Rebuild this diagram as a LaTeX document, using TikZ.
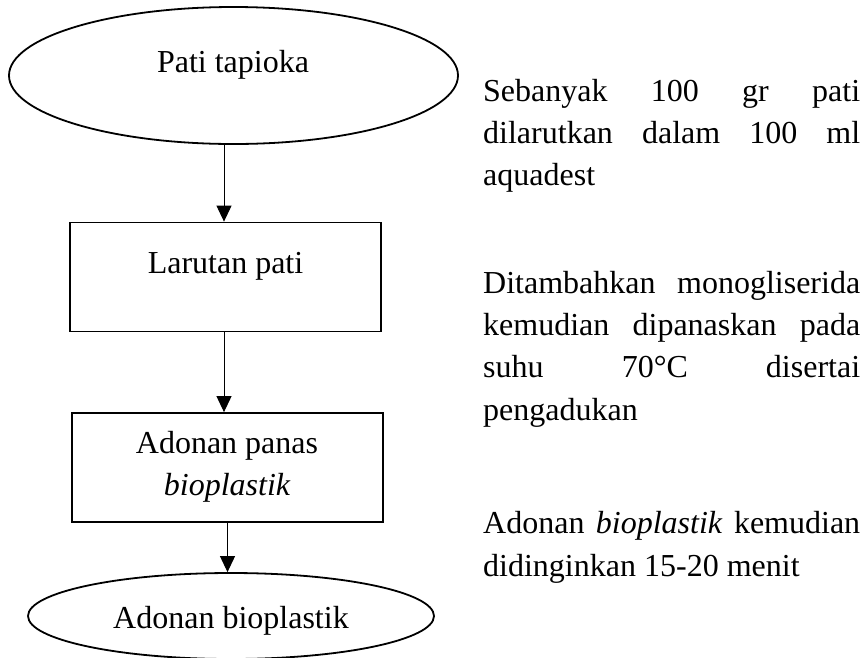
\documentclass[tikz,border=0pt]{standalone}
\usepackage{fontspec}
\setmainfont{Liberation Serif}
\usetikzlibrary{arrows.meta,shapes.geometric}
\tikzset{
  shapeline/.style={draw=black, line width=1.8pt, inner sep=0pt},
  oval/.style={shapeline, ellipse},
  procbox/.style={shapeline, rectangle},
  lbl/.style={anchor=base, inner sep=0pt, font=\fontsize{32}{42}\selectfont},
  rtxt/.style={anchor=base west, inner sep=0pt, font=\fontsize{32}{42}\selectfont},
  flow/.style={line width=1pt, -{Triangle[length=16pt,width=15pt]}}
}
\newcommand{\jline}[1]{\makebox[377pt][s]{#1}}
\begin{document}
\begin{tikzpicture}[x=1pt,y=-1pt]
\useasboundingbox (0,0) rectangle (865,657);
% shapes
\node[oval, minimum width=449pt, minimum height=137pt] (e1) at (233.5,75.5) {};
\node[procbox, minimum width=311pt, minimum height=109pt] (r1) at (225.5,277) {};
\node[procbox, minimum width=311pt, minimum height=109pt] (r2) at (227.5,467.5) {};
\node[oval, minimum width=406pt, minimum height=86pt] (e2) at (231,616) {};
% texts in shapes
\node[lbl] (e1t) at (233,72) {Pati tapioka};
\node[lbl] (r1t) at (225.5,273) {Larutan pati};
\node[lbl] (r2a) at (227,453) {Adonan panas};
\node[lbl] (r2b) at (227,495) {\itshape bioplastik};
\node[lbl] (e2t) at (231,628) {Adonan bioplastik};
% connectors
\draw[flow] ([xshift=-1.5pt]r1.north |- e1.south) -- ([xshift=-1.5pt]r1.north);
\draw[flow] ([xshift=-1.5pt]r1.south) -- ([xshift=-1.5pt]r1.south |- r2.north);
\draw[flow] (r2.south) -- (r2.south |- e2.north);
% right-hand descriptions
\node[rtxt] (p1a) at (483,101) {\jline{Sebanyak 100 gr pati}};
\node[rtxt] (p1b) at (483,143) {\jline{dilarutkan dalam 100 ml}};
\node[rtxt] (p1c) at (483,185) {aquadest};
\node[rtxt] (p2a) at (483,293) {\jline{Ditambahkan monogliserida}};
\node[rtxt] (p2b) at (483,335) {\jline{kemudian dipanaskan pada}};
\node[rtxt] (p2c) at (483,377) {\jline{suhu 70°C disertai}};
\node[rtxt] (p2d) at (483,420) {pengadukan};
\node[rtxt] (p3a) at (483,533) {\jline{Adonan \textit{bioplastik} kemudian}};
\node[rtxt] (p3b) at (483,576) {didinginkan 15-20 menit};
\end{tikzpicture}
\end{document}
